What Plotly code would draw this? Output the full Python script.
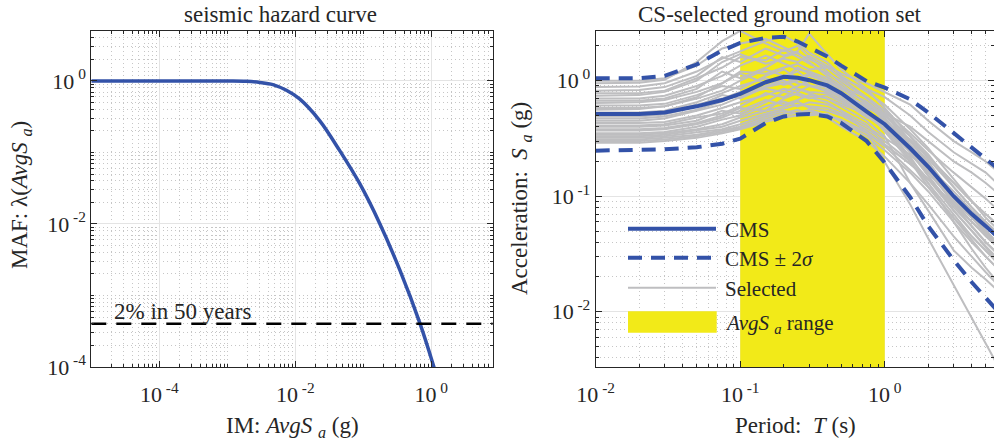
import plotly.graph_objects as go

# ---- seismic hazard curve (left panel) ----
im_avgsa = [1e-5, 1e-4, 5e-4, 1e-3, 0.0019, 0.003, 0.00468, 0.0074, 0.01156,
            0.0228, 0.045, 0.0887, 0.175, 0.345, 0.681, 1.07, 1.26]
maf = [1.0, 1.0, 0.999, 0.9965, 0.9886, 0.955, 0.891, 0.741, 0.561,
       0.279, 0.106, 0.0366, 0.0101, 0.00226, 4.08e-4, 1.07e-4, 6.3e-5]
maf_2in50 = 4.04e-4
hazard_x_ends = [1e-5, 8.0]

# ---- conditional spectrum and selected records (right panel) ----
periods = [0.01, 0.02, 0.03, 0.05, 0.075, 0.1, 0.15, 0.2, 0.25, 0.3,
           0.4, 0.5, 0.75, 1.0, 1.5, 2.0, 3.0, 4.0, 5.0, 7.5]
cms = [0.515, 0.515, 0.53, 0.60, 0.68, 0.77, 0.97, 1.08, 1.06, 1.01,
       0.91, 0.78, 0.54, 0.42, 0.26, 0.18, 0.10, 0.07, 0.055, 0.035]
cms_plus2 = [1.05, 1.05, 1.10, 1.38, 1.82, 2.12, 2.35, 2.40, 2.18, 1.95,
             1.62, 1.35, 0.99, 0.87, 0.69, 0.53, 0.35, 0.26, 0.21, 0.14]
cms_minus2 = [0.248, 0.250, 0.255, 0.265, 0.285, 0.315, 0.43, 0.49, 0.51, 0.515,
              0.49, 0.43, 0.30, 0.195, 0.098, 0.055, 0.028, 0.018, 0.013, 0.0075]
selected = [
    [1.00, 1.00, 1.05, 1.35, 1.90, 2.10, 2.30, 1.95, 1.70, 1.55, 1.30, 1.05, 0.72, 0.55, 0.30, 0.20, 0.10, 0.065, 0.048, 0.028],
    [0.95, 0.96, 1.02, 1.45, 2.20, 2.70, 2.10, 1.80, 2.00, 1.60, 1.20, 0.95, 0.62, 0.48, 0.25, 0.15, 0.075, 0.05, 0.036, 0.02],
    [0.88, 0.89, 0.95, 1.20, 1.55, 1.80, 2.20, 2.45, 2.10, 1.75, 1.45, 1.10, 0.80, 0.62, 0.38, 0.26, 0.14, 0.09, 0.065, 0.04],
    [0.82, 0.83, 0.88, 1.10, 1.60, 1.45, 1.90, 1.65, 1.80, 2.55, 1.70, 1.25, 0.85, 0.58, 0.33, 0.21, 0.12, 0.08, 0.06, 0.035],
    [0.78, 0.78, 0.82, 1.05, 1.30, 1.60, 1.50, 1.85, 1.60, 1.40, 1.15, 1.00, 0.70, 0.52, 0.28, 0.17, 0.085, 0.055, 0.04, 0.025],
    [0.74, 0.75, 0.80, 1.00, 1.45, 1.70, 1.40, 1.55, 1.45, 1.65, 1.35, 1.15, 0.95, 0.80, 0.62, 0.45, 0.30, 0.24, 0.20, 0.13],
    [0.70, 0.70, 0.74, 0.90, 1.10, 1.35, 1.65, 1.40, 1.25, 1.20, 1.05, 0.85, 0.66, 0.50, 0.30, 0.19, 0.10, 0.07, 0.05, 0.03],
    [0.67, 0.67, 0.70, 0.85, 1.20, 1.05, 1.30, 1.60, 1.75, 1.45, 1.10, 0.90, 0.55, 0.40, 0.22, 0.13, 0.06, 0.035, 0.024, 0.013],
    [0.64, 0.65, 0.68, 0.80, 0.95, 1.20, 1.15, 1.30, 1.40, 1.25, 1.30, 1.05, 0.85, 0.72, 0.50, 0.36, 0.24, 0.19, 0.16, 0.10],
    [0.61, 0.61, 0.63, 0.75, 0.90, 0.85, 1.10, 1.25, 1.05, 1.15, 1.00, 0.88, 0.72, 0.55, 0.35, 0.25, 0.16, 0.12, 0.095, 0.06],
    [0.58, 0.58, 0.60, 0.70, 0.82, 1.00, 1.25, 1.10, 1.20, 1.00, 0.85, 0.75, 0.50, 0.38, 0.21, 0.14, 0.075, 0.05, 0.037, 0.022],
    [0.56, 0.57, 0.60, 0.72, 0.95, 1.15, 0.95, 1.05, 1.30, 1.15, 0.95, 0.80, 0.60, 0.47, 0.27, 0.16, 0.09, 0.06, 0.045, 0.028],
    [0.53, 0.53, 0.55, 0.65, 0.78, 0.90, 1.05, 0.92, 1.00, 1.10, 0.98, 0.85, 0.65, 0.44, 0.30, 0.22, 0.13, 0.09, 0.07, 0.045],
    [0.51, 0.51, 0.53, 0.62, 0.70, 0.80, 0.95, 1.10, 0.95, 0.90, 0.88, 0.70, 0.52, 0.40, 0.24, 0.15, 0.08, 0.055, 0.04, 0.024],
    [0.49, 0.49, 0.51, 0.60, 0.75, 0.70, 0.88, 0.95, 1.05, 0.92, 0.80, 0.72, 0.58, 0.50, 0.33, 0.23, 0.12, 0.08, 0.06, 0.038],
    [0.47, 0.47, 0.49, 0.56, 0.66, 0.78, 0.85, 0.80, 0.90, 1.00, 0.92, 0.80, 0.55, 0.36, 0.20, 0.12, 0.065, 0.042, 0.03, 0.018],
    [0.45, 0.45, 0.47, 0.55, 0.62, 0.72, 0.90, 1.00, 0.85, 0.80, 0.78, 0.68, 0.48, 0.42, 0.28, 0.18, 0.11, 0.075, 0.058, 0.036],
    [0.43, 0.43, 0.44, 0.50, 0.58, 0.65, 0.75, 0.85, 0.80, 0.90, 0.82, 0.75, 0.62, 0.52, 0.40, 0.30, 0.20, 0.16, 0.13, 0.085],
    [0.41, 0.41, 0.42, 0.48, 0.52, 0.60, 0.78, 0.72, 0.85, 0.78, 0.70, 0.60, 0.45, 0.33, 0.13, 0.075, 0.034, 0.024, 0.019, 0.012],
    [0.40, 0.40, 0.41, 0.45, 0.55, 0.52, 0.65, 0.80, 0.75, 0.70, 0.75, 0.65, 0.50, 0.38, 0.25, 0.17, 0.095, 0.065, 0.05, 0.03],
    [0.38, 0.38, 0.39, 0.43, 0.50, 0.58, 0.55, 0.70, 0.78, 0.72, 0.65, 0.55, 0.36, 0.20, 0.085, 0.043, 0.017, 0.009, 0.0053, 0.0021],
    [0.37, 0.37, 0.38, 0.42, 0.48, 0.55, 0.68, 0.62, 0.68, 0.75, 0.70, 0.62, 0.52, 0.45, 0.31, 0.22, 0.13, 0.09, 0.07, 0.045],
    [0.35, 0.35, 0.36, 0.40, 0.46, 0.50, 0.60, 0.66, 0.60, 0.65, 0.62, 0.55, 0.42, 0.28, 0.19, 0.14, 0.085, 0.06, 0.046, 0.028],
    [0.34, 0.34, 0.35, 0.38, 0.42, 0.48, 0.55, 0.60, 0.66, 0.58, 0.55, 0.50, 0.38, 0.30, 0.20, 0.13, 0.07, 0.045, 0.034, 0.02],
    [0.33, 0.33, 0.34, 0.37, 0.40, 0.45, 0.52, 0.58, 0.62, 0.60, 0.58, 0.52, 0.40, 0.32, 0.23, 0.16, 0.09, 0.065, 0.05, 0.03],
    [0.32, 0.32, 0.33, 0.36, 0.38, 0.42, 0.50, 0.55, 0.52, 0.56, 0.50, 0.45, 0.35, 0.27, 0.17, 0.12, 0.065, 0.045, 0.034, 0.02],
    [0.31, 0.31, 0.32, 0.34, 0.37, 0.40, 0.48, 0.52, 0.56, 0.50, 0.52, 0.44, 0.33, 0.25, 0.16, 0.11, 0.06, 0.04, 0.03, 0.018],
    [0.30, 0.30, 0.31, 0.33, 0.36, 0.39, 0.46, 0.50, 0.53, 0.55, 0.48, 0.40, 0.30, 0.22, 0.13, 0.085, 0.045, 0.03, 0.022, 0.013],
    [0.29, 0.29, 0.30, 0.32, 0.35, 0.38, 0.44, 0.48, 0.50, 0.52, 0.50, 0.46, 0.36, 0.28, 0.19, 0.14, 0.085, 0.06, 0.047, 0.03],
]
avgsa_period_range = [0.1, 1.0]

# axis limits (log10 units)
HAZ_X_RANGE = [-5, 0.903]
HAZ_Y_RANGE = [-4, 0.699]
SPEC_X_RANGE = [-2, 0.756]
SPEC_Y_RANGE = [-2.478, 0.43]

BLUE = "#3352A8"
GRAY = "#BEBEC0"
YELLOW = "#F2EA18"
AXIS = "#262626"
FONT = "Liberation Serif"

W, H = 994, 444
fig = go.Figure()

# left panel traces
fig.add_trace(go.Scatter(x=im_avgsa, y=maf, mode="lines", name="hazard",
                         line=dict(color=BLUE, width=3.5, shape="spline", smoothing=1.0),
                         xaxis="x", yaxis="y", showlegend=False))
fig.add_trace(go.Scatter(x=hazard_x_ends, y=[maf_2in50, maf_2in50], mode="lines",
                         name="2% in 50 years",
                         line=dict(color="black", width=2.5, dash="15px,10px"),
                         xaxis="x", yaxis="y", showlegend=False))

# right panel: AvgSa period band spanning the full vertical extent
y_lo, y_hi = 10 ** SPEC_Y_RANGE[0], 10 ** SPEC_Y_RANGE[1]
t0, t1 = avgsa_period_range
fig.add_trace(go.Scatter(x=[t0, t1, t1, t0, t0], y=[y_lo, y_lo, y_hi, y_hi, y_lo],
                         mode="lines", fill="toself", fillcolor=YELLOW,
                         line=dict(width=0, color=YELLOW), name="AvgSa range",
                         xaxis="x2", yaxis="y2", showlegend=False, hoverinfo="skip"))

for rec in selected:
    fig.add_trace(go.Scatter(x=periods, y=rec, mode="lines", name="Selected",
                             line=dict(color=GRAY, width=2), xaxis="x2", yaxis="y2",
                             showlegend=False))
fig.add_trace(go.Scatter(x=periods, y=cms, mode="lines", name="CMS",
                         line=dict(color=BLUE, width=4), xaxis="x2", yaxis="y2",
                         showlegend=False))
for band in (cms_plus2, cms_minus2):
    fig.add_trace(go.Scatter(x=periods, y=band, mode="lines", name="CMS ± 2σ",
                             line=dict(color=BLUE, width=4, dash="14px,9px"),
                             xaxis="x2", yaxis="y2", showlegend=False))


def minor_vals(lo, hi, majors):
    vals = []
    for e in range(lo, hi + 1):
        for k in range(1, 10):
            v = k * 10.0 ** e
            if not (k == 1 and e in majors):
                vals.append(v)
    return vals


def sup(e):
    return "10<sup> %d</sup>" % e if e >= 0 else "10<sup> -%d</sup>" % (-e)


def log_axis(rng, domain, majors, lo, hi, anchor, standoff=0):
    return dict(
        type="log", range=rng, domain=domain, anchor=anchor, automargin=False,
        tickmode="array", tickvals=[10.0 ** e for e in majors],
        ticktext=[sup(e) for e in majors],
        tickfont=dict(family=FONT, size=22, color=AXIS),
        ticklabelstandoff=standoff,
        ticks="inside", ticklen=6, tickwidth=1, tickcolor=AXIS,
        showline=True, linecolor=AXIS, linewidth=1, mirror="allticks",
        showgrid=True, gridcolor="#E4E4E4", gridwidth=1.2,
        zeroline=False,
        minor=dict(tickvals=minor_vals(lo, hi, majors), ticks="inside", ticklen=3,
                   tickcolor=AXIS, showgrid=True, gridcolor="#C6C6C6",
                   griddash="1px,3px", gridwidth=1),
    )


ydom = [77 / H, 413 / H]
fig.update_layout(
    width=W, height=H, autosize=False,
    margin=dict(l=0, r=0, t=0, b=0),
    paper_bgcolor="white", plot_bgcolor="white",
    font=dict(family=FONT, size=22, color=AXIS),
    xaxis=log_axis(HAZ_X_RANGE, [91.3 / W, 492.7 / W], [-4, -2, 0], -5, 0, "y", 8),
    yaxis=log_axis(HAZ_Y_RANGE, ydom, [-4, -2, 0], -4, 0, "x"),
    xaxis2=log_axis(SPEC_X_RANGE, [595.7 / W, 1.0], [-2, -1, 0], -2, 0, "y2", 8),
    yaxis2=log_axis(SPEC_Y_RANGE, ydom, [-2, -1, 0], -3, 0, "x2"),
)


def py(y):
    return (H - y) / H


def px(x):
    return x / W


# legend samples
shapes = [
    dict(type="line", xref="paper", yref="paper", x0=px(628), x1=px(716),
         y0=py(228.7), y1=py(228.7), line=dict(color=BLUE, width=4)),
    dict(type="line", xref="paper", yref="paper", x0=px(628), x1=px(716),
         y0=py(257.7), y1=py(257.7), line=dict(color=BLUE, width=4, dash="14px,9px")),
    dict(type="line", xref="paper", yref="paper", x0=px(628), x1=px(716),
         y0=py(287.7), y1=py(287.7), line=dict(color=GRAY, width=2)),
    dict(type="rect", xref="paper", yref="paper", x0=px(628), x1=px(716.7),
         y0=py(332.7), y1=py(311.3), fillcolor=YELLOW, line=dict(width=0)),
]
fig.update_layout(shapes=shapes)

ann = []


def text(x, y, s, size=22, angle=0, xanchor="center", yanchor="middle"):
    ann.append(dict(x=px(x), y=py(y), xref="paper", yref="paper", text=s,
                    showarrow=False, textangle=angle, xanchor=xanchor,
                    yanchor=yanchor, font=dict(family=FONT, size=size, color=AXIS)))


AVGSA = "<i>AvgS</i> <sub><i>a</i></sub>"
text(280, 15, "seismic hazard curve", size=23)
text(780, 15, "CS-selected ground motion set", size=23)
text(292, 427, "IM: " + AVGSA + " (g)", size=23)
text(795, 425, "Period:  <i>T</i> (s)", size=23)
text(21, 195, "MAF: λ(" + AVGSA + ")", size=23, angle=-90)
text(521, 199, "Acceleration:  <i>S</i> <sub><i>a</i></sub> (g)", size=23, angle=-90)
text(112, 311, "2% in 50 years", size=23, xanchor="left")
text(723, 230, "CMS", size=21, xanchor="left")
text(723, 259, "CMS ± 2<i>σ</i>", size=21, xanchor="left")
text(723, 289, "Selected", size=21, xanchor="left")
text(723, 324, AVGSA + " range", size=21, xanchor="left")
fig.update_layout(annotations=ann)

fig.write_html("out.html")
